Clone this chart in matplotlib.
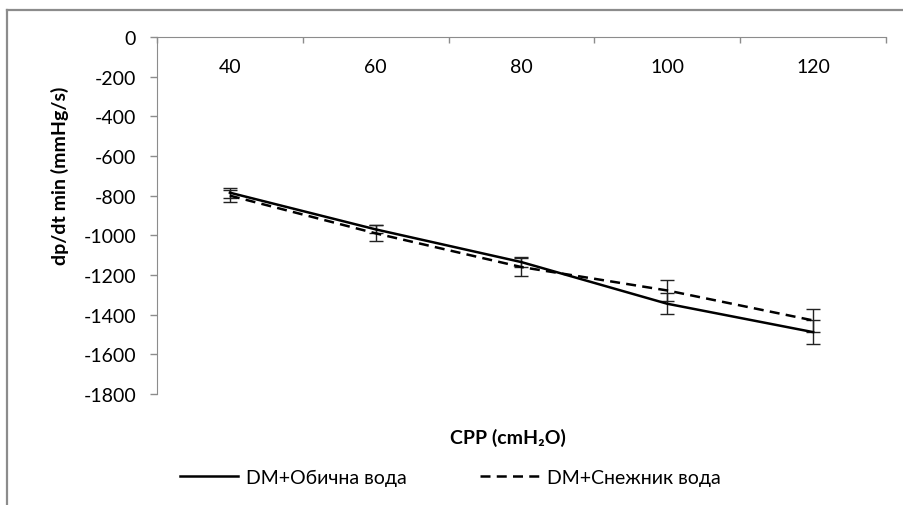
import matplotlib.pyplot as plt
from matplotlib.lines import Line2D

plt.rcParams['font.family'] = ['Lato', 'Open Sans', 'DejaVu Sans']
plt.rcParams['axes.unicode_minus'] = False

cpp = ["40", "60", "80", "100", "120"]
obicna = [-785, -970, -1135, -1345, -1488]
obicna_err = [25, 20, 25, 52, 62]
sneznik = [-800, -990, -1160, -1278, -1429]
sneznik_err = [30, 40, 45, 52, 60]

FS = 14
GRAY = "#8c8c8c"

fig = plt.figure(figsize=(9.04, 5.06), dpi=100)

# outer chart frame (only top and left edges are visible)
fig.add_artist(Line2D([7 / 904, 7 / 904], [1 - 11 / 506, 0], color=GRAY, lw=1.6))
fig.add_artist(Line2D([7 / 904, 1], [1 - 11 / 506, 1 - 11 / 506], color=GRAY, lw=1.6))

ax = fig.add_axes([157 / 904, 1 - 395 / 506, (886 - 157) / 904, (395 - 38) / 506])
x = list(range(1, len(cpp) + 1))

ax.errorbar(x, obicna, yerr=obicna_err, color="black", lw=1.8, ecolor="#222222",
            elinewidth=1, capsize=5, capthick=1)
ax.errorbar(x, sneznik, yerr=sneznik_err, color="black", lw=1.8, ls=(0, (4, 2.5)),
            ecolor="#222222", elinewidth=1, capsize=5, capthick=1)

ax.set_xlim(0.5, len(cpp) + 0.5)
ax.set_ylim(-1800, 0)
ax.set_yticks(range(0, -1801, -200))
ax.tick_params(axis="y", direction="out", length=5, width=1, color=GRAY,
               labelsize=FS, pad=10)

# category axis on top at y=0: ticks on the boundaries, labels under the line
ax.xaxis.tick_top()
ax.set_xticks([i + 0.5 for i in range(0, len(cpp) + 1)])
ax.set_xticklabels([])
ax.tick_params(axis="x", direction="in", length=4, width=1, color=GRAY)
for xi, lbl in zip(x, cpp):
    ax.text(xi, -150, lbl, ha="center", va="center", fontsize=FS)

ax.spines["right"].set_visible(False)
ax.spines["bottom"].set_visible(False)
ax.spines["top"].set_color(GRAY)
ax.spines["left"].set_color(GRAY)

fig.text(60 / 904, 1 - 176 / 506, "dp/dt min (mmHg/s)", rotation=90, ha="center",
         va="center", fontsize=FS, fontweight="bold")
fig.text(508 / 904, 1 - 438 / 506, "CPP (cmH₂O)", ha="center", va="center",
         fontsize=FS, fontweight="bold")

handles = [Line2D([], [], color="black", lw=1.8),
           Line2D([], [], color="black", lw=1.8, ls=(0, (4, 2.5)))]
fig.legend(handles, ["DM+Обична вода", "DM+Снежник вода"], ncol=2, frameon=False,
           loc="center", bbox_to_anchor=(450 / 904, 1 - 478 / 506), fontsize=FS,
           handlelength=3.0, handletextpad=0.4, columnspacing=3.8)

fig.savefig("out.png", dpi=100)
